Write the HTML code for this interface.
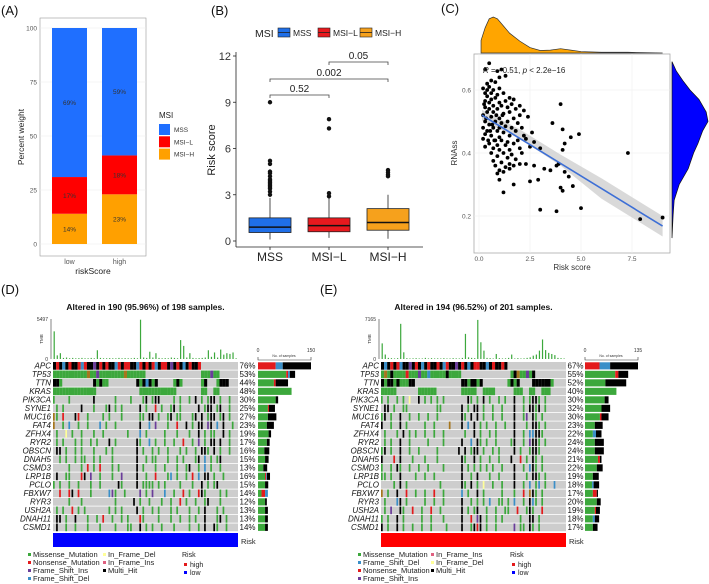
<!DOCTYPE html>
<html><head><meta charset="utf-8"><style>
html,body{margin:0;padding:0;background:#fff;}
svg{display:block;font-family:"Liberation Sans",sans-serif;}
</style></head><body>
<svg id="fig" width="709" height="584" viewBox="0 0 709 584" xmlns="http://www.w3.org/2000/svg">
<g font-size="13" fill="#111">
<text x="1" y="15">(A)</text>
<text x="211" y="15">(B)</text>
<text x="441" y="13">(C)</text>
<text x="1" y="294">(D)</text>
<text x="320" y="294">(E)</text>
</g>
<g id="pA"></g>
<g id="pB"></g>
<g id="pC"></g>
<g id="pD"></g>
<g id="pE"></g>
</svg>
<script>
// ---------- Panel A data ----------
const aGroups = ["low","high"];
const aMSS = [69,59];
const aMSIL = [17,18];
const aMSIH = [14,23];
const aTicks = [0,25,50,75,100];
// ---------- Panel B data ----------
const bCats = ["MSS","MSI\u2212L","MSI\u2212H"];
const bQ1 = [0.55,0.6,0.7];
const bMed = [0.9,1.0,1.2];
const bQ3 = [1.5,1.5,2.1];
const bLo = [0.1,0.2,0.15];
const bHi = [2.8,2.8,3.0];
const bOutMSS = [9.0,5.2,5.0,4.5,4.4,4.2,4.0,3.9,3.8,3.7,3.6,3.5,3.4,3.2,3.0];
const bOutMSIL = [7.9,7.3,3.1,2.9];
const bOutMSIH = [4.6,4.45,4.3,4.2];
const bTicks = [0,3,6,9,12];
const bPvals = ["0.52","0.002","0.05"];
// ---------- Panel C data ----------
const cPts = [[0.5,0.685],[0.3,0.665],[0.9,0.66],[1.1,0.665],[1.3,0.645],[1.0,0.64],[0.6,0.63],[0.8,0.625],[0.4,0.62],[0.5,0.61],[0.2,0.605],[0.7,0.6],[1.0,0.605],[0.3,0.59],[0.6,0.59],[0.9,0.585],[1.2,0.59],[0.4,0.58],[0.8,0.575],[1.5,0.575],[1.7,0.57],[0.3,0.565],[0.5,0.56],[1.0,0.56],[1.3,0.565],[0.7,0.55],[1.1,0.55],[1.6,0.555],[2.0,0.55],[0.3,0.545],[0.5,0.54],[0.9,0.54],[1.4,0.545],[1.8,0.54],[2.2,0.535],[0.4,0.53],[0.7,0.53],[1.2,0.525],[1.5,0.53],[2.0,0.52],[0.2,0.52],[0.6,0.515],[1.0,0.51],[1.7,0.51],[2.4,0.515],[0.3,0.5],[0.8,0.5],[1.1,0.495],[1.4,0.5],[1.9,0.495],[0.5,0.49],[0.2,0.48],[0.7,0.48],[1.0,0.48],[1.3,0.485],[1.6,0.48],[2.1,0.48],[0.4,0.47],[0.9,0.47],[1.2,0.465],[1.8,0.47],[2.6,0.465],[0.3,0.46],[0.6,0.455],[1.0,0.45],[1.5,0.455],[2.2,0.455],[0.2,0.445],[0.8,0.44],[1.1,0.44],[1.4,0.435],[1.9,0.44],[2.3,0.445],[0.5,0.43],[0.9,0.425],[1.3,0.425],[1.7,0.43],[2.7,0.435],[0.3,0.42],[0.7,0.415],[1.0,0.41],[1.5,0.41],[2.0,0.415],[2.5,0.42],[0.6,0.4],[1.2,0.4],[1.6,0.395],[2.1,0.4],[0.9,0.39],[1.4,0.385],[1.8,0.38],[0.7,0.375],[1.1,0.37],[1.5,0.365],[2.0,0.365],[0.8,0.36],[1.3,0.355],[1.7,0.36],[2.3,0.365],[1.0,0.345],[0.9,0.335],[1.2,0.34],[1.5,0.35],[1.0,0.315],[1.7,0.3],[1.2,0.275],[0.4,0.6],[0.6,0.57],[0.35,0.51],[0.55,0.47],[0.45,0.44],[0.75,0.44],[0.85,0.52],[0.65,0.49],[0.25,0.555],[1.15,0.52],[3.6,0.495],[4.0,0.555],[4.1,0.475],[4.9,0.46],[4.5,0.45],[4.2,0.43],[4.1,0.41],[3.0,0.415],[2.7,0.36],[3.2,0.35],[3.5,0.345],[3.8,0.36],[3.9,0.365],[4.2,0.34],[4.4,0.325],[2.5,0.31],[2.9,0.315],[4.0,0.29],[4.1,0.28],[4.6,0.295],[3.0,0.22],[3.8,0.215],[5.0,0.225],[7.3,0.4],[7.9,0.19],[9.0,0.195]];
const cFit = [[0.15,0.52],[9.0,0.168]];
const cBandLo = [[0.15,0.503],[2,0.445],[4,0.36],[6,0.255],[9.0,0.135]];
const cBandHi = [[0.15,0.537],[2,0.475],[4,0.395],[6,0.32],[9.0,0.2]];
const cXTicks = [0,2.5,5,7.5];
const cYTicks = [0.2,0.4,0.6];
const cTopDens = [[0.1,0.35],[0.3,0.7],[0.5,0.95],[0.7,1],[0.9,0.95],[1.2,0.75],[1.5,0.55],[2.0,0.33],[2.5,0.15],[3.0,0.07],[3.5,0.08],[4.0,0.12],[4.5,0.08],[5.0,0.04],[6,0.02],[7.3,0.02],[8,0.01],[9,0]];
const cRightDens = [[0.13,0],[0.2,0.03],[0.25,0.06],[0.3,0.2],[0.35,0.45],[0.4,0.6],[0.43,0.72],[0.47,0.85],[0.5,1],[0.53,0.95],[0.57,0.75],[0.6,0.5],[0.63,0.3],[0.66,0.12],[0.69,0]];
// ---------- Oncoplot data ----------
const genesD = ["APC","TP53","TTN","KRAS","PIK3CA","SYNE1","MUC16","FAT4","ZFHX4","RYR2","OBSCN","DNAH5","CSMD3","LRP1B","PCLO","FBXW7","RYR3","USH2A","DNAH11","CSMD1"];
const pctD = ["76%","53%","44%","48%","30%","25%","27%","23%","19%","17%","16%","15%","13%","16%","15%","14%","12%","13%","13%","14%"];
const rowsD = [
"krkbkrkkrbrkkpkrkrkkbrkrrkkbrkrkrbkrrkpkrkbkrkkr",
"gggggggggggoggpggggggggogggggg..................gggpgg",
"kkg..........kgkgg.........kgkbkgk.....gkg......gk...gkkk",
"gggggggggggggg..............gggggggggggg........gg..gg",
"g....g.......k......g....g...gk.gkk....g.g..g.k.g.gkk.g..g",
".g.g.....k...g...gk.g.g.....k.g..r.g..gk.g.....k.gkk.gk..g",
"og.r...kr..g....g.g...g.....gg.kk.g..gk.gg...gk.k.gkk.gk.g",
"o..g.b..g..g...b.g..g.......k..b.p...g..r..k.g.kk.pk.b.k..g",
".g..y.g..g...g..g.......g...b.g.....g...g...g..k.g.gg..k.g",
".g.g...g.g..g.g...k.g......kg..b.g..g..g..r..g.p.g.kk.k..g",
".kk.g..g.g...g...g.g.......k.g..g.g..g...g.g..g.kkg.k.g..g",
"..g.g..g.gg..g.g...g.......k..g.gg...g..g.g...gk.b.g.gk...",
".....g...g.r.g.r...g.g.....k.g...g..g...g..gk..g.b.g..g..",
".k..gg...rk.p..g...g..p....k..g..r...gb.g..g.r.b.kk.g..g",
"g.g..g..g...g..g.....kg....k.gggg.g.g....g...g..k.g.gk..",
"..r..rk.r...g.....bpg..g....p.g.p...b..g..r.g..rkg....g.g",
".....g...g..........g.....k.g..g...g..g..r.g..g..gk...g",
".g.g..r.g.g.......g.g.g....k.g..g.g...g.g...g..g.k...g.g",
".kk.g..k...g..g.r..g..g.g...rg....g...g..g..g.g..k...gk.g",
".k..g..g...g...g....g...gg..k.g.g..g...g....g..g.k..kg..g"];
// side bar counts per gene: green, red, blue, black
const sideGD = [0,80,45,95,50,28,28,25,30,25,18,20,15,20,20,10,20,20,20,20];
const sideRD = [50,5,5,0,0,3,0,0,0,0,0,0,0,3,0,10,0,0,0,0];
const sideBD = [20,5,0,0,0,0,0,0,0,0,0,0,0,2,0,8,0,0,0,0];
const sideKD = [80,15,35,0,7,17,24,20,7,8,14,10,11,9,9,0,5,8,8,8];
const tmbD = [3800,500,800,150,200,100,150,100,120,150,100,100,150,100,1200,150,100,100,120,100,100,150,100,120,100,100,150,100,5400,200,150,1000,200,800,150,100,120,100,200,150,100,2600,1800,200,800,150,100,120,150,200,1200,300,900,200,1300,600,800,700,900,100];
const genesE = ["APC","TP53","TTN","KRAS","PIK3CA","SYNE1","MUC16","FAT4","ZFHX4","RYR2","OBSCN","DNAH5","CSMD3","LRP1B","PCLO","FBXW7","RYR3","USH2A","DNAH11","CSMD1"];
const pctE = ["67%","55%","52%","40%","30%","32%","30%","23%","22%","24%","24%","21%","22%","19%","18%","17%","20%","19%","18%","17%"];
const rowsE = [
"kbkrkrbkkpkrkbkrkkrkbrkkpkrkbkrrkkbkrkkrk",
"gogkggggrgggpggbgggggkgggg................gkoggpgk",
"kgkkgkgggkk...............kkgkkgk........gkgk....kkkkkkg",
"ggggg.......gggggg........ggggg..gggg......ggg..gg..ggg",
"g.g..g.g.y..k.g.g.g.g.......kg.g.k.g..g.g..k..g.gkkg.g.",
".kk.g..gg.........gg......k.g.kk.g..g..g...k..g.kkgk.g.",
"gk.g..k..g..g..g..g.......kg.k.k.g..g..g...k..gp.kg.g..",
"k..g..k.g.....g..g....o...k.b.k.g.g..g..g..k...g.kkg.g.",
".g...g.k.g.g..g..g..g......g..k.g..g.g.....k..g.bbkkg..",
".g.g..k..g.....g....g.....k..b.kg.g..g....gk..g.pkkg.g.",
"gk.g..k..g..g.....g......k.k.gkk.g..g.g....k.g..gkkg...",
"k...r.k...g...g...g.......kg..k.g..g..g...k..r.g.kg.g..",
"g..g.kg..g..g..g....g.....k.g.g.g.g.g..g...k..g.bkg.g..",
"gg.g..k....g..g..g........k..g.k...g..g....k...g.kkg.g.",
"....g.k.g..........g......kg.k.g.y..g..g...k..g.b.gb.g..b",
"o.g..k..r..g..g..r..g.....b.g..k.g.....g...g..r.okg.g..",
".g...bk.g.....g..g..g.....k..g.g.g.b..gg.g.b..g.kbg.g..",
".g.p..kg..r..g..r..g......k.g.gk..g..g..gg..r..gkg..r.",
"g.g..k.g.....g..g...g.....k..r.pk.g..g.g.....g..kk.g..",
"k.g..k.g..g..g..g....g....k..gkrk.g..g.....p.gg.kg.g.."];
const sideGE = [0,77,52,80,50,42,38,25,20,25,25,33,30,20,18,20,30,25,20,20];
const sideRE = [37,8,0,0,0,0,4,0,0,0,0,5,0,0,0,10,0,3,0,0];
const sideBE = [27,0,0,0,0,0,0,0,8,0,0,0,0,0,4,0,0,0,5,0];
const sideKE = [71,25,53,0,10,22,18,20,14,23,23,4,15,15,14,3,10,10,11,12];
const tmbE = [2800,800,200,150,100,150,6300,1200,150,100,120,150,100,100,200,100,150,100,120,100,150,100,100,150,120,100,200,4500,300,200,150,7000,3000,1500,200,150,100,900,150,100,120,200,800,100,150,100,120,200,300,600,800,1500,3500,1600,1100,900,700,200,150,100];

const NS="http://www.w3.org/2000/svg";
function el(parent,tag,attrs,text){const e=document.createElementNS(NS,tag);for(const k in attrs)e.setAttribute(k,attrs[k]);if(text!==undefined)e.textContent=text;parent.appendChild(e);return e;}

// ================= Panel A =================
(function(){
const g=document.getElementById('pA');
const y=v=>244-(v/100)*216;
const xc=i=>[69.5,119.5][i];
const bg=el(g,'rect',{x:40,y:18,width:106,height:238,fill:'#fff',stroke:'#999','stroke-width':0.6});


aTicks.forEach(t=>{
 const l=el(g,'line',{x1:40,x2:146,y1:y(t),y2:y(t),stroke:'#ececec','stroke-width':0.6});
 
 const tx=el(g,'text',{x:37,y:y(t)+2.5,'font-size':6.5,fill:'#555','text-anchor':'end'},String(t));
 
});
const cols=['#ffa000','#ff0000','#1f6fff'];
aGroups.forEach((gr,i)=>{
 const vals=[aMSIH[i],aMSIL[i],aMSS[i]];let base=0;
 vals.forEach((v,j)=>{
  const r=el(g,'rect',{x:xc(i)-17.5,y:y(base+v),width:35,height:y(base)-y(base+v),fill:cols[j]});
  
  const t=el(g,'text',{x:xc(i),y:(y(base)+y(base+v))/2+2.5,'font-size':6.5,fill:'#333','text-anchor':'middle'},v+'%');
  
  base+=v;
 });
 const xl=el(g,'text',{x:xc(i),y:264,'font-size':7,fill:'#555','text-anchor':'middle'},gr);
 
});
const xt=el(g,'text',{x:93,y:274,'font-size':8.5,fill:'#222','text-anchor':'middle'},'riskScore');

const yt=el(g,'text',{x:0,y:0,'font-size':8.5,fill:'#222','text-anchor':'middle',transform:'translate(24,137) rotate(-90)'},'Percent weight');

const lt=el(g,'text',{x:159,y:118,'font-size':8,fill:'#222'},'MSI');

['MSS','MSI\u2212L','MSI\u2212H'].forEach((n,j)=>{
 const r=el(g,'rect',{x:159,y:124+j*12.3,width:11,height:11,fill:['#1f6fff','#ff0000','#ffa000'][j]});
 
 const t=el(g,'text',{x:174,y:132+j*12.3,'font-size':6.5,fill:'#333'},n);
 
});
})();

// ================= Panel B =================
(function(){
const g=document.getElementById('pB');
const y=v=>241-v*(185/12);
const xc=i=>[270,329,388][i];
const cols=['#1f6fe8','#e8191e','#f6a11c'];
const ax=el(g,'line',{x1:236,x2:236,y1:52,y2:247,stroke:'#222','stroke-width':0.8});

const xa=el(g,'line',{x1:236,x2:423,y1:247,y2:247,stroke:'#222','stroke-width':0.8});

bTicks.forEach(t=>{
 const l=el(g,'line',{x1:233,x2:236,y1:y(t),y2:y(t),stroke:'#222','stroke-width':0.8});
 
 const tx=el(g,'text',{x:231,y:y(t)+4,'font-size':11,fill:'#333','text-anchor':'end'},String(t));
 
});
const outs=[bOutMSS,bOutMSIL,bOutMSIH];
bCats.forEach((c,i)=>{
 const x=xc(i);
 const w=el(g,'line',{x1:x,x2:x,y1:y(bLo[i]),y2:y(bHi[i]),stroke:'#222','stroke-width':0.8});
 
 const b=el(g,'rect',{x:x-21,y:y(bQ3[i]),width:42,height:y(bQ1[i])-y(bQ3[i]),fill:cols[i],stroke:'#222','stroke-width':0.8});
 
 const m=el(g,'line',{x1:x-21,x2:x+21,y1:y(bMed[i]),y2:y(bMed[i]),stroke:'#111','stroke-width':1.5});
 
 outs[i].forEach(v=>{
  const o=el(g,'circle',{cx:x,cy:y(v),r:2.2,fill:'#111'});
  
 });
 const l=el(g,'line',{x1:x,x2:x,y1:247,y2:250,stroke:'#222','stroke-width':0.8});
 
 const t=el(g,'text',{x:x,y:261,'font-size':12,fill:'#222','text-anchor':'middle'},c);
 
});
const pairs=[[0,1,95],[0,2,79],[1,2,62]];
pairs.forEach((p,k)=>{
 const pa=el(g,'path',{d:`M${xc(p[0])},${p[2]+3}V${p[2]}H${xc(p[1])}V${p[2]+3}`,fill:'none',stroke:'#444','stroke-width':0.8});
 
 const t=el(g,'text',{x:(xc(p[0])+xc(p[1]))/2,y:p[2]-3,'font-size':10,fill:'#222','text-anchor':'middle'},bPvals[k]);
 
});
const yt=el(g,'text',{x:0,y:0,'font-size':11,fill:'#222','text-anchor':'middle',transform:'translate(215,150) rotate(-90)'},'Risk score');

const lt=el(g,'text',{x:255,y:37,'font-size':10.5,fill:'#222'},'MSI');

[[278,'MSS'],[318,'MSI\u2212L'],[360,'MSI\u2212H']].forEach((e,j)=>{
 const r=el(g,'rect',{x:e[0],y:28,width:12,height:9,fill:cols[j],stroke:'#222','stroke-width':0.6});
 
 const ln=el(g,'line',{x1:e[0],x2:e[0]+12,y1:32.5,y2:32.5,stroke:'#222','stroke-width':0.8});
 
 const t=el(g,'text',{x:e[0]+15,y:36,'font-size':8.5,fill:'#222'},e[1]);
 
});
})();

// ================= Panel C =================
(function(){
const g=document.getElementById('pC');
const x=v=>479+v*(153/7.5);
const y=v=>216-(v-0.2)*(63/0.2);
const bg=el(g,'rect',{x:474,y:54,width:196,height:199,fill:'#fff',stroke:'#aaa','stroke-width':0.8});

cXTicks.forEach(t=>{
 const l=el(g,'line',{x1:x(t),x2:x(t),y1:54,y2:253,stroke:'#eee','stroke-width':0.6});
 
 const tx=el(g,'text',{x:x(t),y:261,'font-size':6.5,fill:'#555','text-anchor':'middle'},t.toFixed(1));
 
});
cYTicks.forEach(t=>{
 const l=el(g,'line',{x1:474,x2:670,y1:y(t),y2:y(t),stroke:'#eee','stroke-width':0.6});
 
 const tx=el(g,'text',{x:471,y:y(t)+2.5,'font-size':6.5,fill:'#555','text-anchor':'end'},t.toFixed(1));
 
});
let d='M'+cBandHi.map(p=>x(p[0])+','+y(p[1])).join('L')+'L'+cBandLo.slice().reverse().map(p=>x(p[0])+','+y(p[1])).join('L')+'Z';
const band=el(g,'path',{d:d,fill:'#cfcfcf','fill-opacity':0.8});

cPts.forEach(p=>{
 const c=el(g,'circle',{cx:x(p[0]),cy:y(p[1]),r:1.9,fill:'#000'});
 
});
const fl=el(g,'line',{x1:x(cFit[0][0]),y1:y(cFit[0][1]),x2:x(cFit[1][0]),y2:y(cFit[1][1]),stroke:'#3d6fd6','stroke-width':1.6});

const an=el(g,'text',{x:483,y:73,'font-size':8,fill:'#222'});

an.innerHTML='<tspan font-style="italic">R</tspan> = \u22120.51, <tspan font-style="italic">p</tspan> &lt; 2.2e\u221216';
const xt=el(g,'text',{x:572,y:270,'font-size':8,fill:'#333','text-anchor':'middle'},'Risk score');

const yt=el(g,'text',{x:0,y:0,'font-size':8,fill:'#333','text-anchor':'middle',transform:'translate(457,153) rotate(-90)'},'RNAss');

let td='M'+x(cTopDens[0][0])+',53'+cTopDens.map(p=>'L'+x(p[0])+','+(53-p[1]*36)).join('')+'L'+x(9)+',53Z';
const tp=el(g,'path',{d:td,fill:'#ffa500',stroke:'#333','stroke-width':0.7});

let rd='M672,'+y(cRightDens[0][0])+cRightDens.map(p=>'L'+(672+p[1]*36)+','+y(p[0])).join('')+'L672,'+y(0.69)+'Z';
const rp=el(g,'path',{d:rd,fill:'#0000ff',stroke:'#111','stroke-width':0.7});

})();

// ================= Oncoplots =================
const mutCol={g:'#3ca83c',r:'#e31a1c',k:'#000',b:'#3a8fc8',p:'#6a3d9a',o:'#a6761d',y:'#ffff99'};
function oncoplot(gid,o){
 const g=document.getElementById(gid);
 const top=362,rh=8.5,mx=o.mx,mw=185,nc=60,cw=mw/nc;
 const t=el(g,'text',{x:mx+mw/2,y:310,'font-size':8.5,'font-weight':'bold',fill:'#111','text-anchor':'middle'},o.title);
 
 // TMB
 const ax=el(g,'line',{x1:mx-2,x2:mx-2,y1:319,y2:359,stroke:'#333','stroke-width':0.6});
 
 const t1=el(g,'text',{x:mx-5,y:321,'font-size':5,fill:'#333','text-anchor':'end'},String(o.tmbMax));
 
 const t0=el(g,'text',{x:mx-5,y:361,'font-size':5,fill:'#333','text-anchor':'end'},'0');
 
 const tl=el(g,'text',{x:0,y:0,'font-size':4.5,fill:'#333','text-anchor':'middle',transform:`translate(${mx-10},339) rotate(-90)`},'TMB');
 
 o.tmb.forEach((v,i)=>{
  const h=v/o.tmbMax*40;
  const r=el(g,'rect',{x:mx+i*cw+0.6,y:359-h,width:1.2,height:h,fill:'#3ca83c'});
  
 });
 // matrix
 o.genes.forEach((gn,j)=>{
  const ry=top+j*rh;
  const bg=el(g,'rect',{x:mx,y:ry,width:mw,height:rh-0.8,fill:'#cdcdcd'});
  
  const s=o.rows[j];
  for(let i=0;i<Math.min(s.length,nc);i++){
   const ch=s[i];if(ch==='.')continue;
   const c=el(g,'rect',{x:mx+i*cw,y:ry,width:(j<4?cw:cw*0.55),height:rh-0.8,fill:mutCol[ch]});
   
  }
  const gl=el(g,'text',{x:mx-2,y:ry+6.6,'font-size':8,'font-style':'italic',fill:'#111','text-anchor':'end'},gn);
  
  const pl=el(g,'text',{x:mx+mw+1.5,y:ry+6.6,'font-size':8,fill:'#111'},o.pct[j]);
  
  // side bars
  const sx=v=>o.sx+v/o.sMax*53;
  let base=0;
  [[o.sG[j],'#3ca83c'],[o.sR[j],'#e31a1c'],[o.sB[j],'#3a8fc8'],[o.sK[j],'#000']].forEach(q=>{
   if(q[0]<=0)return;
   const r=el(g,'rect',{x:sx(base),y:ry+0.3,width:sx(base+q[0])-sx(base),height:rh-1.4,fill:q[1]});
   
   base+=q[0];
  });
 });
 // side axis
 const sa=el(g,'path',{d:`M${o.sx},357V360H${o.sx+53}V357`,fill:'none',stroke:'#333','stroke-width':0.6});
 
 const s0=el(g,'text',{x:o.sx,y:352,'font-size':5,fill:'#333','text-anchor':'middle'},'0');
 
 const s1=el(g,'text',{x:o.sx+53,y:352,'font-size':5,fill:'#333','text-anchor':'middle'},String(o.sMax));
 
 const st=el(g,'text',{x:o.sx+26,y:357,'font-size':3.5,fill:'#333','text-anchor':'middle'},'No. of samples');
 
 // risk bar
 const rb=el(g,'rect',{x:mx,y:533,width:mw,height:14,fill:o.riskCol});
 
 const rt=el(g,'text',{x:mx+mw+3,y:544,'font-size':7.5,fill:'#222'},'Risk');
 
 // legend
 o.legend.forEach(L=>{
  const k=el(g,'rect',{x:L[0]-5,y:L[1]-4,width:3,height:3,fill:L[3]});
  
  const tx=el(g,'text',{x:L[0],y:L[1],'font-size':7.5,fill:'#222'},L[2]);
  
 });
 const lr=el(g,'text',{x:o.rx-4,y:557,'font-size':7,fill:'#222'},'Risk');
 
 [['high','#e31a1c',567],['low','#0000ff',575]].forEach(q=>{
  const k=el(g,'rect',{x:o.rx-2,y:q[2]-4,width:3,height:3,fill:q[1]});
  
  const tx=el(g,'text',{x:o.rx+4,y:q[2],'font-size':7,fill:'#222'},q[0]);
  
 });
}
oncoplot('pD',{mx:53,title:'Altered in 190 (95.96%) of 198 samples.',tmbMax:5497,tmb:tmbD,genes:genesD,rows:rowsD,pct:pctD,
 sx:258,sMax:150,sG:sideGD,sR:sideRD,sB:sideBD,sK:sideKD,riskCol:'#0000ff',rx:186,
 legend:[[33,557,'Missense_Mutation','#3ca83c'],[33,565,'Nonsense_Mutation','#e31a1c'],[33,573,'Frame_Shift_Ins','#6a3d9a'],[33,581,'Frame_Shift_Del','#3a8fc8'],
 [108,557,'In_Frame_Del','#ffff99'],[108,565,'In_Frame_Ins','#e06080'],[108,573,'Multi_Hit','#000']]});
oncoplot('pE',{mx:381,title:'Altered in 194 (96.52%) of 201 samples.',tmbMax:7165,tmb:tmbE,genes:genesE,rows:rowsE,pct:pctE,
 sx:585,sMax:135,sG:sideGE,sR:sideRE,sB:sideBE,sK:sideKE,riskCol:'#ff0000',rx:514,
 legend:[[363,557,'Missense_Mutation','#3ca83c'],[363,565,'Frame_Shift_Del','#3a8fc8'],[363,573,'Nonsense_Mutation','#e31a1c'],[363,581,'Frame_Shift_Ins','#6a3d9a'],
 [436,557,'In_Frame_Ins','#e06080'],[436,565,'In_Frame_Del','#ffff99'],[436,573,'Multi_Hit','#000']]});
</script>
</body></html>
